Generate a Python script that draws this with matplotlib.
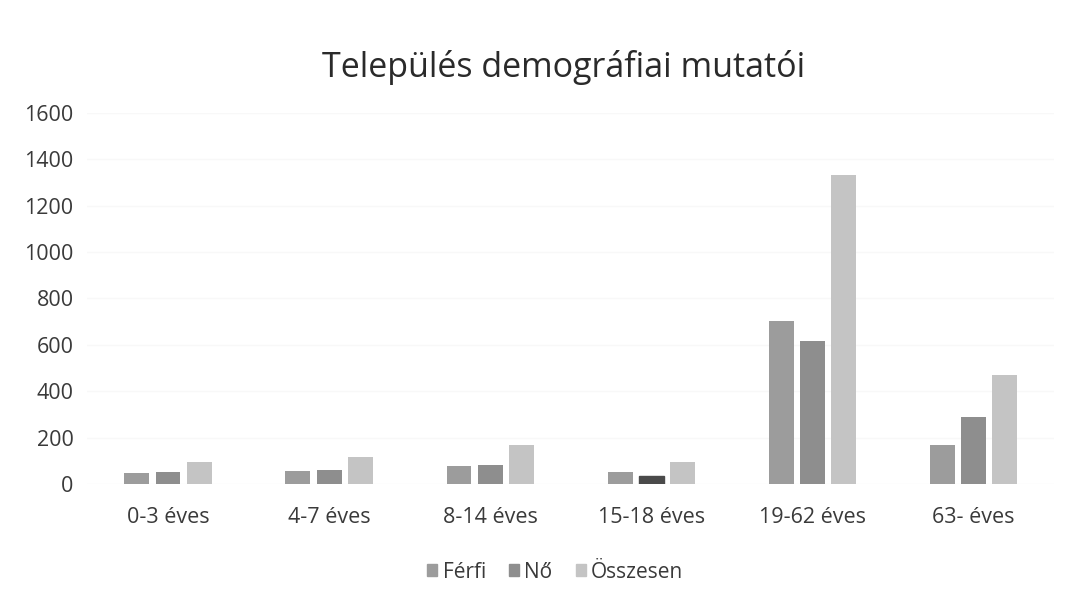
import numpy as np
from matplotlib import pyplot as plt
from matplotlib.patches import Patch

plt.rcParams['font.family'] = ['Open Sans', 'DejaVu Sans']

# data
categories = ['0-3 éves', '4-7 éves', '8-14 éves', '15-18 éves', '19-62 éves', '63- éves']
ferfi = [49, 56, 79, 53, 703, 168]
no = [50, 58, 81, 34, 617, 289]
osszesen = [96, 115, 168, 95, 1332, 470]
yticks = [0, 200, 400, 600, 800, 1000, 1200, 1400, 1600]

c_ferfi = '#9c9c9c'
c_no = '#8e8e8e'
c_ossz = '#c4c4c4'

fig = plt.figure(figsize=(10.76, 5.93), dpi=100)
ax = fig.add_axes([0.0813, 0.184, 0.898, 0.6256])

x = np.arange(len(categories))
w = 0.155
step = 0.193
ax.bar(x - step, ferfi, w, color=c_ferfi, zorder=2)
bars_no = ax.bar(x, no, w, color=c_no, zorder=2)
bars_no[3].set_color('#4a4a4a')  # this one came out dark in the scan
ax.bar(x + step, osszesen, w, color=c_ossz, zorder=2)

ax.set_xlim(-0.5, len(categories) - 0.5)
ax.set_ylim(0, 1600)
ax.set_yticks(yticks)
ax.set_xticks(x)
ax.set_xticklabels(categories)
ax.yaxis.grid(True, color='#f8f8f8', linewidth=1, zorder=0)
for s in ax.spines.values():
    s.set_visible(False)
ax.tick_params(axis='both', length=0, labelsize=15.5, colors='#3a3a3a')
ax.tick_params(axis='x', pad=17)
ax.tick_params(axis='y', pad=10)

fig.text(0.524, 0.887, 'Település demográfiai mutatói', ha='center', va='center',
         fontsize=24.5, color='#2a2a2a')

handles = [Patch(color=c_ferfi), Patch(color=c_no), Patch(color=c_ossz)]
fig.legend(handles, ['Férfi', 'Nő', 'Összesen'], loc='center', bbox_to_anchor=(0.516, 0.035),
           ncol=3, frameon=False, fontsize=15, handlelength=0.5, handleheight=0.5,
           handletextpad=0.25, columnspacing=1.1, labelcolor='#3a3a3a')

plt.savefig('out.png', dpi=100)
